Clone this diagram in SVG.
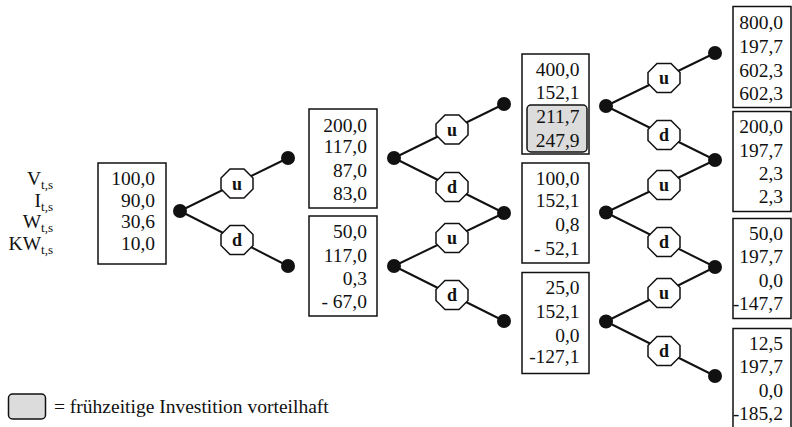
<svg xmlns="http://www.w3.org/2000/svg" xmlns:xlink="http://www.w3.org/1999/xlink" width="792" height="427" viewBox="0 0 792 427">
<style>
  text { font-family: "Liberation Serif", "Times New Roman", serif; fill: #111; }
  .num { font-size: 19.5px; text-anchor: end; }
  .lab { font-size: 19.5px; text-anchor: end; }
  .sub { font-size: 13px; }
  .box { fill: #fff; stroke: #111; stroke-width: 1.5; }
  .hl { fill: #dcdcdc; stroke: #111; stroke-width: 1.5; }
  .edge { stroke: #111; stroke-width: 2; fill: none; }
  .dot { fill: #111; }
  .oct { fill: #fff; stroke: #111; stroke-width: 1.5; }
  .ol { font-size: 18px; font-weight: bold; text-anchor: middle; }
</style>
<defs>
  <polygon id="octagon" class="oct" points="-7,-14.5 7,-14.5 16,-5.5 16,5.5 7,14.5 -7,14.5 -16,5.5 -16,-5.5"/>
</defs>

<!-- row labels -->
<g id="labels">
  <text class="lab" x="53" y="185.4">V<tspan class="sub" dy="4">t,s</tspan></text>
  <text class="lab" x="53" y="206.8">I<tspan class="sub" dy="4">t,s</tspan></text>
  <text class="lab" x="53" y="228.2">W<tspan class="sub" dy="4">t,s</tspan></text>
  <text class="lab" x="53" y="249.6">KW<tspan class="sub" dy="4">t,s</tspan></text>
</g>

<!-- connectors -->
<g id="connectors">
  <line class="edge" x1="180" y1="211" x2="288" y2="158"/>
  <line class="edge" x1="180" y1="211" x2="288" y2="266"/>
  <line class="edge" x1="394" y1="158" x2="504" y2="104"/>
  <line class="edge" x1="394" y1="158" x2="504" y2="213"/>
  <line class="edge" x1="394" y1="266" x2="504" y2="213"/>
  <line class="edge" x1="394" y1="266" x2="504" y2="321"/>
  <line class="edge" x1="606" y1="106" x2="715" y2="53"/>
  <line class="edge" x1="606" y1="106" x2="715" y2="160"/>
  <line class="edge" x1="606" y1="212.5" x2="715" y2="160"/>
  <line class="edge" x1="606" y1="212.5" x2="715" y2="267"/>
  <line class="edge" x1="606" y1="321.5" x2="715" y2="267"/>
  <line class="edge" x1="606" y1="321.5" x2="715" y2="376"/>
  <circle class="dot" cx="180" cy="211" r="7"/>
  <circle class="dot" cx="288" cy="158" r="7"/>
  <circle class="dot" cx="288" cy="266" r="7"/>
  <circle class="dot" cx="394" cy="158" r="7"/>
  <circle class="dot" cx="394" cy="266" r="7"/>
  <circle class="dot" cx="504" cy="104" r="7"/>
  <circle class="dot" cx="504" cy="213" r="7"/>
  <circle class="dot" cx="504" cy="321" r="7"/>
  <circle class="dot" cx="606" cy="106" r="7"/>
  <circle class="dot" cx="606" cy="212.5" r="7"/>
  <circle class="dot" cx="606" cy="321.5" r="7"/>
  <circle class="dot" cx="715" cy="53" r="7"/>
  <circle class="dot" cx="715" cy="160" r="7"/>
  <circle class="dot" cx="715" cy="267" r="7"/>
  <circle class="dot" cx="715" cy="376" r="7"/>
</g>

<!-- octagon nodes -->
<g id="o1u"><use xlink:href="#octagon" href="#octagon" x="237" y="183.5"/><text class="ol" x="237" y="189.5">u</text></g>
<g id="o1d"><use xlink:href="#octagon" href="#octagon" x="237" y="240"/><text class="ol" x="237" y="246">d</text></g>
<g id="o2u1"><use xlink:href="#octagon" href="#octagon" x="452" y="129.5"/><text class="ol" x="452" y="135.5">u</text></g>
<g id="o2d1"><use xlink:href="#octagon" href="#octagon" x="452" y="187"/><text class="ol" x="452" y="193">d</text></g>
<g id="o2u2"><use xlink:href="#octagon" href="#octagon" x="452" y="238"/><text class="ol" x="452" y="244">u</text></g>
<g id="o2d2"><use xlink:href="#octagon" href="#octagon" x="452" y="295"/><text class="ol" x="452" y="301">d</text></g>
<g id="o3u1"><use xlink:href="#octagon" href="#octagon" x="664" y="78"/><text class="ol" x="664" y="84">u</text></g>
<g id="o3d1"><use xlink:href="#octagon" href="#octagon" x="664" y="135"/><text class="ol" x="664" y="141">d</text></g>
<g id="o3u2"><use xlink:href="#octagon" href="#octagon" x="664" y="185"/><text class="ol" x="664" y="191">u</text></g>
<g id="o3d2"><use xlink:href="#octagon" href="#octagon" x="664" y="242"/><text class="ol" x="664" y="248">d</text></g>
<g id="o3u3"><use xlink:href="#octagon" href="#octagon" x="664" y="293"/><text class="ol" x="664" y="299">u</text></g>
<g id="o3d3"><use xlink:href="#octagon" href="#octagon" x="664" y="351"/><text class="ol" x="664" y="357">d</text></g>

<!-- value boxes -->
<g id="b0">
  <rect class="box" x="98" y="163" width="68" height="101"/>
  <text class="num" x="155" y="185.4">100,0</text>
  <text class="num" x="155" y="206.8">90,0</text>
  <text class="num" x="155" y="228.2">30,6</text>
  <text class="num" x="155" y="249.6">10,0</text>
</g>
<g id="b1u">
  <rect class="box" x="309" y="109" width="68" height="99"/>
  <text class="num" x="367" y="131.6">200,0</text>
  <text class="num" x="367" y="153.3">117,0</text>
  <text class="num" x="367" y="176.6">87,0</text>
  <text class="num" x="367" y="199.6">83,0</text>
</g>
<g id="b1d">
  <rect class="box" x="309" y="216" width="68" height="100"/>
  <text class="num" x="367" y="238.3">50,0</text>
  <text class="num" x="367" y="261.6">117,0</text>
  <text class="num" x="367" y="284.6">0,3</text>
  <text class="num" x="367" y="308.3">- 67,0</text>
</g>
<g id="b2uu">
  <rect class="box" x="522" y="54" width="67" height="100"/>
  <rect class="hl" x="527" y="105" width="60" height="47" rx="4"/>
  <text class="num" x="579.5" y="75.9">400,0</text>
  <text class="num" x="579.5" y="99.3">152,1</text>
  <text class="num" x="579.5" y="123.3">211,7</text>
  <text class="num" x="579.5" y="146.6">247,9</text>
</g>
<g id="b2ud">
  <rect class="box" x="522" y="163" width="67" height="100"/>
  <text class="num" x="579.5" y="184.6">100,0</text>
  <text class="num" x="579.5" y="207.3">152,1</text>
  <text class="num" x="579.5" y="230.6">0,8</text>
  <text class="num" x="579.5" y="254.9">- 52,1</text>
</g>
<g id="b2dd">
  <rect class="box" x="522" y="272.5" width="67" height="101"/>
  <text class="num" x="579.5" y="294.3">25,0</text>
  <text class="num" x="579.5" y="318.3">152,1</text>
  <text class="num" x="579.5" y="341.6">0,0</text>
  <text class="num" x="579.5" y="363.3">-127,1</text>
</g>
<g id="b3uuu">
  <rect class="box" x="733" y="6.5" width="58" height="101"/>
  <text class="num" x="783" y="29.3">800,0</text>
  <text class="num" x="783" y="53.3">197,7</text>
  <text class="num" x="783" y="76.6">602,3</text>
  <text class="num" x="783" y="99.9">602,3</text>
</g>
<g id="b3uud">
  <rect class="box" x="733" y="111.5" width="58" height="100"/>
  <text class="num" x="783" y="133.3">200,0</text>
  <text class="num" x="783" y="156.6">197,7</text>
  <text class="num" x="783" y="179.9">2,3</text>
  <text class="num" x="783" y="203.3">2,3</text>
</g>
<g id="b3udd">
  <rect class="box" x="733" y="218.5" width="58" height="100"/>
  <text class="num" x="783" y="239.9">50,0</text>
  <text class="num" x="783" y="263.3">197,7</text>
  <text class="num" x="783" y="286.6">0,0</text>
  <text class="num" x="783" y="309.9">-147,7</text>
</g>
<g id="b3ddd">
  <rect class="box" x="733" y="328.5" width="58" height="101"/>
  <text class="num" x="783" y="349.9">12,5</text>
  <text class="num" x="783" y="373.3">197,7</text>
  <text class="num" x="783" y="396.6">0,0</text>
  <text class="num" x="783" y="419.9">-185,2</text>
</g>

<!-- legend -->
<g id="legend">
  <rect class="hl" x="8.5" y="394" width="37" height="25" rx="4"/>
  <text x="54" y="412.5" style="font-size:19.5px">= frühzeitige Investition vorteilhaft</text>
</g>
</svg>
